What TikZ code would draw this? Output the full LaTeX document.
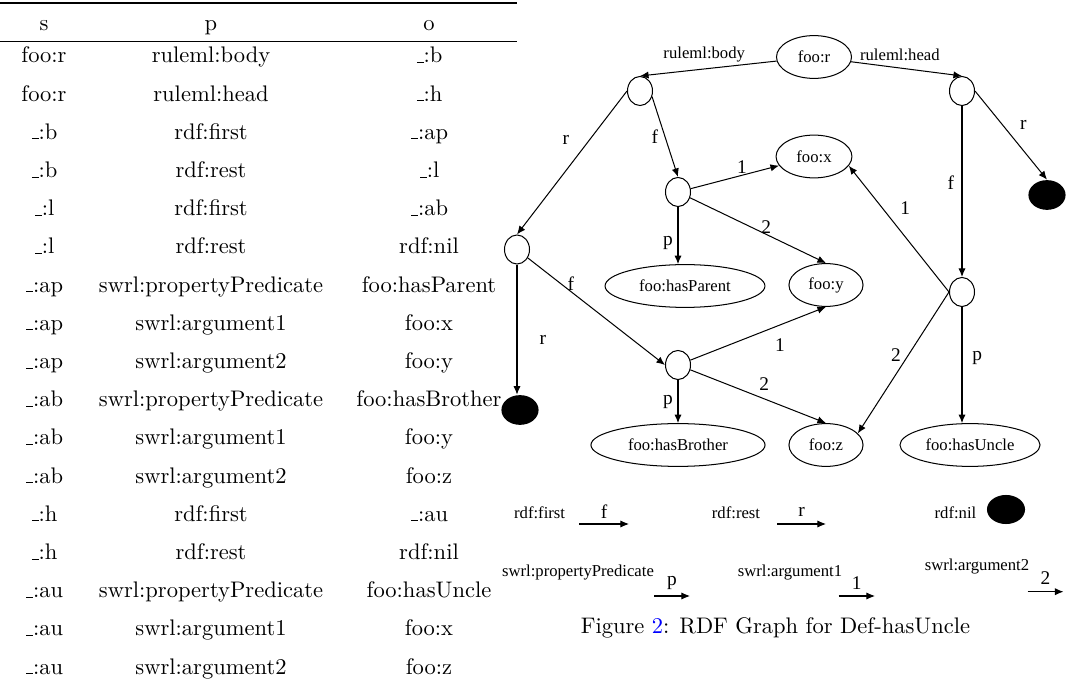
\documentclass[tikz,border=0pt]{standalone}
\usepackage{fontspec}
\usepackage{tikz}
\usetikzlibrary{arrows.meta,shapes.geometric,positioning}
\newfontfamily\graphfont{Liberation Serif}
\newcommand{\us}{\leavevmode\kern.06em\vbox{\hrule width.3em}}

\begin{document}
\begin{tikzpicture}[x=0.444pt,y=-0.444pt,>={Latex[length=3.8pt,width=3.2pt]},line width=0.45pt,
  res/.style={ellipse,draw,inner sep=0pt,minimum height=19pt,font=\graphfont\fontsize{7.4}{8}\selectfont},
  blank/.style={ellipse,draw,inner sep=0pt,minimum width=11.1pt,minimum height=12.9pt},
  nil/.style={ellipse,fill,inner sep=0pt,minimum width=16.5pt,minimum height=13.2pt},
  lbl/.style={font=\graphfont\fontsize{8.6}{9}\selectfont,inner sep=0pt},
  word/.style={font=\graphfont\fontsize{7.4}{8}\selectfont,inner sep=0pt},
  cell/.style={anchor=base,inner sep=0pt}]
\useasboundingbox (0,0) rectangle (1066,684);

\draw[line width=0.8pt] (0,3.3) -- (517,3.3);
\draw[line width=0.5pt] (0,41.7) -- (517,41.7);
\node[cell] (hs) at (44,30.5) {s};
\node[cell] (hp) at (211,30.5) {p};
\node[cell] (ho) at (429,30.5) {o};
\foreach \subj/\pred/\obj [count=\i from 0] in {foo:r/ruleml:body/\us:b,foo:r/ruleml:head/\us:h,%
  \us:b/rdf:first/\us:ap,\us:b/rdf:rest/\us:l,\us:l/rdf:first/\us:ab,\us:l/rdf:rest/rdf:nil,%
  \us:ap/swrl:propertyPredicate/foo:hasParent,\us:ap/swrl:argument1/foo:x,\us:ap/swrl:argument2/foo:y,%
  \us:ab/swrl:propertyPredicate/foo:hasBrother,\us:ab/swrl:argument1/foo:y,\us:ab/swrl:argument2/foo:z,%
  \us:h/rdf:first/\us:au,\us:h/rdf:rest/rdf:nil,%
  \us:au/swrl:propertyPredicate/foo:hasUncle,\us:au/swrl:argument1/foo:x,\us:au/swrl:argument2/foo:z}
{
  \node[cell] (s\i) at (44,63+38.2*\i) {\subj};
  \node[cell] (p\i) at (211,63+38.2*\i) {\pred};
  \node[cell] (o\i) at (429,63+38.2*\i) {\obj};
}

\node[res,minimum width=33.3pt] (r) at (814,57) {foo:r};
\node[blank] (b) at (640,91) {};
\node[blank] (h) at (962,91) {};
\node[res,minimum width=33.7pt] (x) at (814,156.5) {foo:x};
\node[blank] (ap) at (678,192) {};
\node[nil] (nilh) at (1047,195) {};
\node[blank] (l) at (517,249.5) {};
\node[res,minimum width=71pt] (par) at (685,286) {foo:hasParent};
\node[res,minimum width=32.9pt] (y) at (826,285) {foo:y};
\node[blank] (au) at (962,292) {};
\node[blank] (ab) at (678,365) {};
\node[nil] (nilb) at (520,410) {};
\node[res,minimum width=77.3pt] (bro) at (678,445) {foo:hasBrother};
\node[res,minimum width=32.9pt] (z) at (826,445) {foo:z};
\node[res,minimum width=62.2pt] (unc) at (970,445) {foo:hasUncle};

\path[->]
(r) edge node[word,pos=0.53,yshift=6.5pt] {ruleml:body} (b.north)
    edge node[word,pos=0.44,yshift=6pt] {ruleml:head} (h.north)
(b.west) edge node[lbl,pos=0.34,xshift=-10.5pt] {r} (l.north)
(b.-25) edge node[lbl,pos=0.5,xshift=-4.5pt] {f} (ap.north)
(ap) edge node[lbl,pos=0.58,yshift=3.6pt] {1} (x)
     edge node[lbl,pos=0.56,yshift=3.2pt] {2} (y.north)
     edge node[lbl,pos=0.63,xshift=-4.5pt] {p} (ap |- par.north)
(h.east) edge node[lbl,pos=0.38,xshift=9.3pt] {r} (nilh.north)
(h) edge node[lbl,pos=0.45,xshift=-4.9pt] {f} (au)
(au.west) edge node[lbl,pos=0.665,xshift=10.2pt] {1} (x.-15)
          edge node[lbl,pos=0.445,xshift=-5.5pt] {2} (z.20)
(au) edge node[lbl,pos=0.44,xshift=6.7pt] {p} (au |- unc.north)
(l) edge node[lbl,pos=0.24,xshift=4.5pt] {f} (ab.west)
    edge node[lbl,pos=0.58,xshift=11.5pt] {r} (l |- nilb.north)
(ab) edge node[lbl,pos=0.66,yshift=-8.9pt] {1} (y.south)
     edge node[lbl,pos=0.545,yshift=6.7pt] {2} (z.north)
     edge node[lbl,pos=0.52,xshift=-4.5pt] {p} (bro);

\node[word] (kfirst) at (539.6,513) {rdf:first};
\coordinate (kf1) at (579,524);
\coordinate (kf2) at (629,524);
\node[word] (krest) at (736,513) {rdf:rest};
\coordinate (kr1) at (777,524);
\coordinate (kr2) at (826,524);
\node[word] (knil) at (955.5,513) {rdf:nil};
\node[nil,minimum width=16.9pt,minimum height=12.9pt] (knilnode) at (1006,509.5) {};
\node[word] (kpp) at (578,573) {swrl:propertyPredicate};
\coordinate (kp1) at (654,596);
\coordinate (kp2) at (690,596);
\node[word] (ka1) at (790,572.7) {swrl:argument1};
\coordinate (k11) at (838.5,596);
\coordinate (k12) at (875,596);
\node[word] (ka2) at (977,567) {swrl:argument2};
\coordinate (k21) at (1027.5,591.7);
\coordinate (k22) at (1063.5,591.7);
\draw[->] (kf1) -- node[lbl,yshift=5.3pt] {f} (kf2);
\draw[->] (kr1) -- node[lbl,yshift=5.3pt] {r} (kr2);
\draw[->] (kp1) -- node[lbl,yshift=5.8pt] {p} (kp2);
\draw[->] (k11) -- node[lbl,yshift=5.8pt] {1} (k12);
\draw[->] (k21) -- node[lbl,yshift=6.1pt] {2} (k22);

\node[cell] (cap) at (775.5,634) {Figure \textcolor{blue}{2}: RDF Graph for Def-hasUncle};
\end{tikzpicture}
\end{document}
